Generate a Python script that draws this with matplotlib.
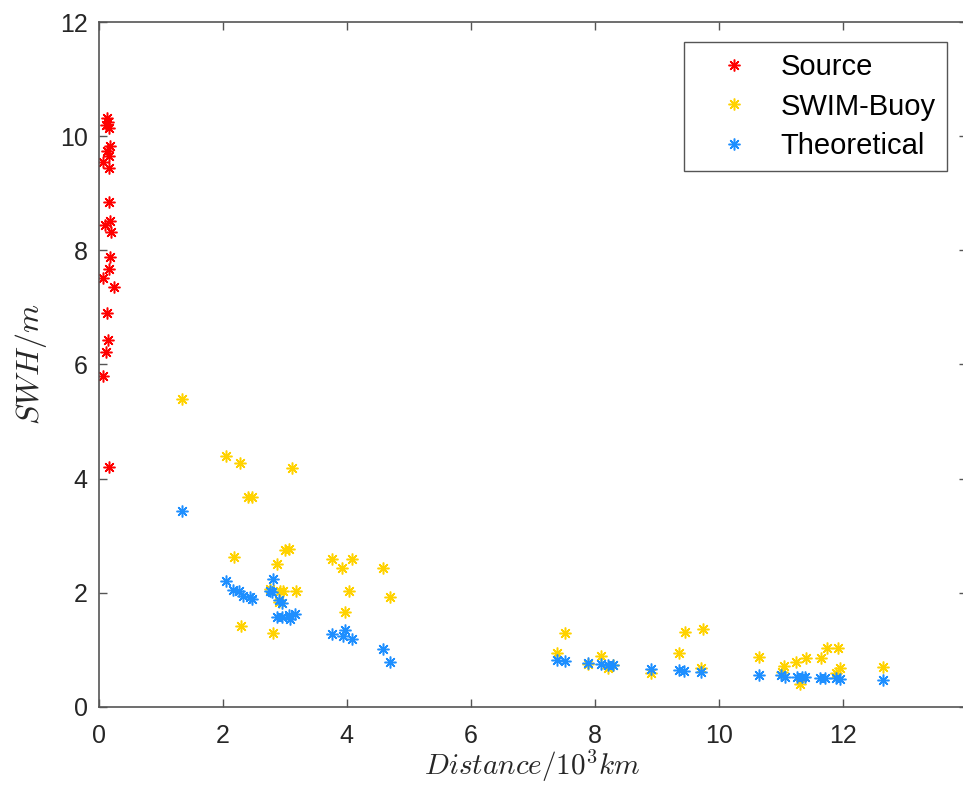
import numpy as np
import matplotlib.pyplot as plt

plt.rcParams['font.family'] = ['Liberation Sans', 'DejaVu Sans']
plt.rcParams['mathtext.fontset'] = 'cm'

# source wave heights near the storm
src_x = [0.13, 0.15, 0.12, 0.16, 0.19, 0.14, 0.17, 0.07, 0.16, 0.16, 0.19, 0.10,
         0.20, 0.19, 0.17, 0.07, 0.24, 0.13, 0.15, 0.12, 0.07, 0.17]
src_y = [10.32, 10.25, 10.20, 10.15, 9.82, 9.74, 9.66, 9.54, 9.44, 8.84, 8.52, 8.44,
         8.33, 7.89, 7.67, 7.51, 7.35, 6.90, 6.43, 6.22, 5.79, 4.21]

# SWIM / buoy observations
buoy_x = [1.34, 2.05, 2.28, 3.12, 2.41, 2.47, 2.18, 3.00, 3.07, 2.88, 3.76, 4.08,
          3.93, 4.59, 2.92, 2.97, 3.18, 4.04, 4.70, 3.97, 2.30, 2.81, 2.91, 2.77,
          7.52, 7.39, 8.11, 8.22, 8.30, 7.89, 9.46, 9.74, 9.36, 8.91, 9.71, 10.65,
          11.05, 11.02, 11.25, 11.41, 11.31, 11.65, 11.74, 11.92, 11.95, 11.90, 12.65]
buoy_y = [5.39, 4.39, 4.28, 4.18, 3.67, 3.67, 2.63, 2.75, 2.76, 2.50, 2.59, 2.59,
          2.43, 2.43, 2.03, 2.03, 2.03, 2.03, 1.93, 1.66, 1.41, 1.30, 1.84, 2.07,
          1.30, 0.95, 0.89, 0.68, 0.73, 0.75, 1.31, 1.36, 0.94, 0.59, 0.68, 0.88,
          0.71, 0.62, 0.79, 0.85, 0.40, 0.85, 1.04, 1.04, 0.68, 0.60, 0.70]

# theoretical decay
theo_x = [1.34, 2.05, 2.17, 2.27, 2.32, 2.44, 2.48, 2.81, 2.76, 2.79, 2.91, 2.95,
          2.88, 2.95, 3.09, 3.17, 3.07, 3.77, 3.97, 3.94, 4.08, 4.59, 4.70,
          7.39, 7.52, 7.89, 8.11, 8.22, 8.30, 8.91, 9.36, 9.44, 9.71, 10.65,
          11.01, 11.07, 11.26, 11.34, 11.40, 11.63, 11.72, 11.89, 11.95, 12.65]
theo_y = [3.44, 2.21, 2.05, 2.04, 1.94, 1.92, 1.89, 2.24, 2.04, 2.02, 1.87, 1.82,
          1.58, 1.57, 1.54, 1.62, 1.61, 1.28, 1.35, 1.24, 1.19, 1.02, 0.78,
          0.82, 0.81, 0.77, 0.75, 0.74, 0.74, 0.67, 0.65, 0.63, 0.62, 0.56,
          0.56, 0.53, 0.53, 0.53, 0.53, 0.51, 0.51, 0.51, 0.49, 0.47]

star = (8, 2, 0)
fig = plt.figure(figsize=(9.63, 7.87), dpi=100)
ax = fig.add_axes([0.1025, 0.1017, 0.9013, 0.8703])

ax.plot(src_x, src_y, ls='none', marker=star, ms=8.5, mew=1.1, color='#ff0000', label='Source')
ax.plot(buoy_x, buoy_y, ls='none', marker=star, ms=8.5, mew=1.1, color='#ffd200', label='SWIM-Buoy')
ax.plot(theo_x, theo_y, ls='none', marker=star, ms=8.5, mew=1.1, color='#1e8fff', label='Theoretical')

ax.set_xlim(0, 14)
ax.set_ylim(0, 12)
ax.set_xticks(np.arange(0, 13, 2))
ax.set_yticks(np.arange(0, 13, 2))
ax.tick_params(direction='in', length=6, width=1, colors='#555555', labelcolor='#262626',
               labelsize=18, top=True, right=True, pad=8)
ax.tick_params(axis='x', pad=12.5)
for s in ax.spines.values():
    s.set_color('#555555')
    s.set_linewidth(1.2)

ax.set_xlabel(r'$Distance/10^3km$', fontsize=21, color='#262626', labelpad=0)
ax.set_ylabel(r'$SWH/m$', fontsize=23, color='#262626', labelpad=8)

leg = ax.legend(loc='upper right', bbox_to_anchor=(0.977, 0.971), borderaxespad=0,
                fontsize=21, fancybox=False, framealpha=1, edgecolor='#555555',
                handlelength=2.67, handletextpad=0.27, borderpad=0.38, labelspacing=0.4)
leg.get_frame().set_linewidth(1.0)

fig.savefig('out.png', dpi=100)
